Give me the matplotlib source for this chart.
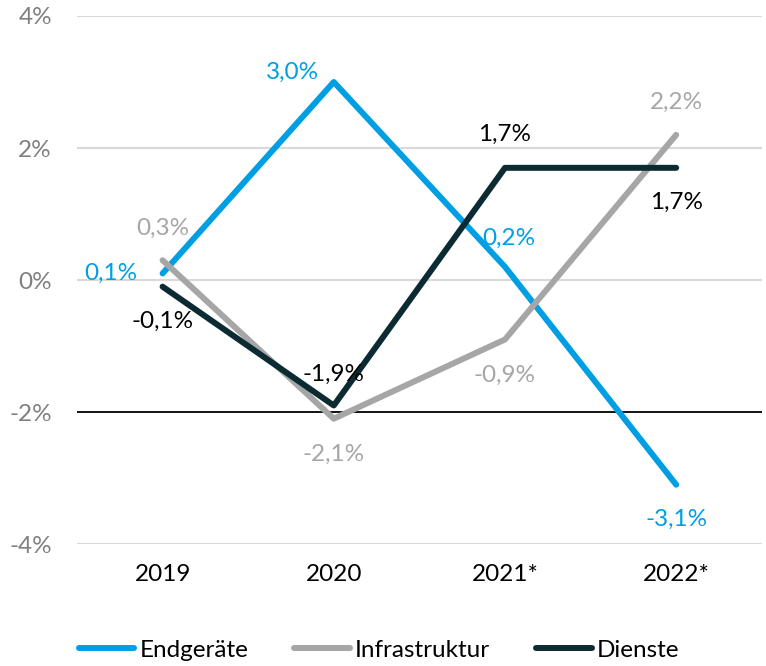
import matplotlib.pyplot as plt

plt.rcParams['font.family'] = ['Lato', 'DejaVu Sans']

jahre = ["2019", "2020", "2021*", "2022*"]
endgeraete = [0.1, 3.0, 0.2, -3.1]
infrastruktur = [0.3, -2.1, -0.9, 2.2]
dienste = [-0.1, -1.9, 1.7, 1.7]
y_ticks = [-4, -2, 0, 2, 4]

blau = "#009FE3"
grau = "#A6A6A6"
dunkel = "#0B2A32"
fs = 17.5

fig = plt.figure(figsize=(7.66, 6.66), dpi=100)
ax = fig.add_axes([0.1005, 0.183, 0.894, 0.793])

x = range(len(jahre))
ax.plot(x, endgeraete, color=blau, lw=4.3, label="Endgeräte", solid_capstyle='round')
ax.plot(x, infrastruktur, color=grau, lw=4.3, label="Infrastruktur", solid_capstyle='round')
ax.plot(x, dienste, color=dunkel, lw=4.3, label="Dienste", solid_capstyle='round')

for y in y_ticks:
    if y == -2:
        ax.axhline(y, color="black", lw=1.3, zorder=0.5)
    else:
        ax.axhline(y, color="#D9D9D9", lw=1.5, zorder=0.5)

def fmt(v):
    return f"{v:.1f}%".replace(".", ",")

# Beschriftungen: (dx, dy) in Pixeln, ha
pos_end = [(-25, 0, 'right'), (-15, 10, 'right'), (4, 29, 'center'), (0, -35, 'center')]
pos_inf = [(0, 32, 'center'), (0, -36, 'center'), (0, -36, 'center'), (0, 32, 'center')]
pos_die = [(0, -35, 'center'), (0, 31, 'center'), (0, 33, 'center'), (0, -35, 'center')]

for werte, pos, farbe in [(endgeraete, pos_end, blau), (infrastruktur, pos_inf, grau), (dienste, pos_die, "black")]:
    for i, v in enumerate(werte):
        dx, dy, ha = pos[i]
        ax.annotate(fmt(v), (i, v), xytext=(dx, dy), textcoords="offset pixels",
                    ha=ha, va='center', color=farbe, fontsize=fs)

ax.set_xlim(-0.5, 3.5)
ax.set_ylim(-4, 4)
ax.set_yticks(y_ticks)
ax.set_yticklabels([f"{t}%" for t in y_ticks], color="#7F7F7F", fontsize=fs)
ax.set_xticks(list(x))
ax.set_xticklabels(jahre, fontsize=fs)
ax.tick_params(length=0, axis='y', pad=18)
ax.tick_params(length=0, axis='x', pad=14)
for s in ax.spines.values():
    s.set_visible(False)

fig.legend(loc='lower center', ncol=3, frameon=False, fontsize=fs,
           bbox_to_anchor=(0.495, -0.025), handlelength=2.3, handletextpad=0.2,
           columnspacing=1.9)

fig.savefig("out.png", dpi=100)
